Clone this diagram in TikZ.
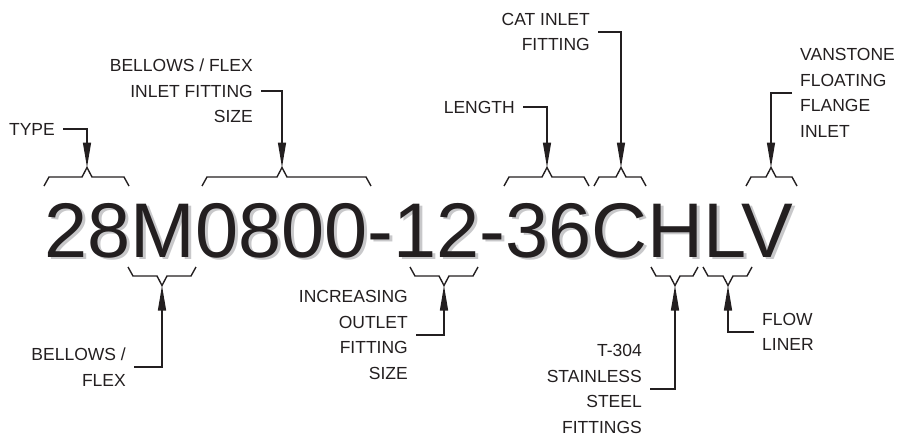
\documentclass[tikz,border=0pt]{standalone}
\usepackage{fontspec}
\setmainfont{Liberation Sans}
\usetikzlibrary{arrows.meta,positioning,calc}
\definecolor{codeink}{RGB}{35,31,32}
\definecolor{codeshade}{RGB}{200,200,202}
\tikzset{
  code text/.style={
    font=\fontsize{77.5}{80}\selectfont,
    text=codeink,
    inner sep=0pt,
    anchor=base west,
  },
  code label/.style={
    font=\fontsize{17.5}{25.5}\selectfont,
    text=codeink,
    inner xsep=8pt,
    inner ysep=0pt,
  },
  brace line/.style={
    line width=1.4pt,
    draw=codeink,
    line join=miter,
  },
  leader/.style={
    -{Triangle[length=25pt,width=8pt]},
    line width=1.3pt,
    draw=codeink,
  },
}
% brace: name, left end, right end, peak, y of the ends, sign (-1 up, 1 down)
\newcommand{\codebrace}[6]{%
  \draw[brace line] (#2,#5) -- (#2+5,#5+#6*9) -- (#4-5,#5+#6*9)
    -- (#4,#5+#6*18.5) -- (#4+5,#5+#6*9) -- (#3-5,#5+#6*9) -- (#3,#5);
  \coordinate (#1) at (#4,#5+#6*18.5);
}
% text with a grey drop shadow
\newcommand{\shadowed}[1]{%
  \rlap{\hspace{3pt}\raisebox{-2.5pt}{\textcolor{codeshade}{#1}}}#1}

\begin{document}
\begin{tikzpicture}[x=1pt,y=-1pt]
  \useasboundingbox (0,0) rectangle (897,436);

  % part number
  \node[code text] (code) at (44.5,257) {\shadowed{28M0800-12-36CHLV}};

  % braces over the code
  \codebrace{ptype}{44}{129}{87}{186}{-1}
  \codebrace{pinlet}{202}{371}{282}{186}{-1}
  \codebrace{plength}{504}{589}{547}{186}{-1}
  \codebrace{pcat}{594}{646}{621}{186}{-1}
  \codebrace{pvan}{746}{797}{771}{186}{-1}
  % braces under the code
  \codebrace{pflex}{128}{196}{162}{267}{1}
  \codebrace{poutlet}{410}{478}{444}{267}{1}
  \codebrace{psteel}{651}{698}{675}{267}{1}
  \codebrace{pliner}{703}{752}{728}{267}{1}

  % labels above
  \node[code label, anchor=east] (type) at (63,129) {TYPE};
  \node[code label, anchor=east, align=right] (inletsize) at (261,91)
    {BELLOWS / FLEX\\INLET FITTING\\SIZE};
  \node[code label, anchor=east] (length) at (523,107) {LENGTH};
  \node[code label, anchor=east, align=right] (catinlet) at (598,32)
    {CAT INLET\\FITTING};
  \node[code label, anchor=west, align=left] (vanstone) at (792,93)
    {VANSTONE\\FLOATING\\FLANGE\\INLET};

  % labels below
  \node[code label, anchor=east, align=right] (flex) at (134,367)
    {BELLOWS /\\FLEX};
  \node[code label, anchor=east, align=right] (outlet) at (416,335)
    {INCREASING\\OUTLET\\FITTING\\SIZE};
  \node[code label, anchor=east, align=right] (steel) at (650,389)
    {T-304\\STAINLESS\\STEEL\\FITTINGS};
  \node[code label, anchor=west, align=left] (liner) at (754,332)
    {FLOW\\LINER};

  \draw[leader] (type.east) -| (ptype);
  \draw[leader] (inletsize.east) -| (pinlet);
  \draw[leader] (length.east) -| (plength);
  \draw[leader] (catinlet.east) -| (pcat);
  \draw[leader] (vanstone.west) -| (pvan);
  \draw[leader] (flex.east) -| (pflex);
  \draw[leader] (outlet.east) -| (poutlet);
  \draw[leader] (steel.east) -| (psteel);
  \draw[leader] (liner.west) -| (pliner);
\end{tikzpicture}
\end{document}
